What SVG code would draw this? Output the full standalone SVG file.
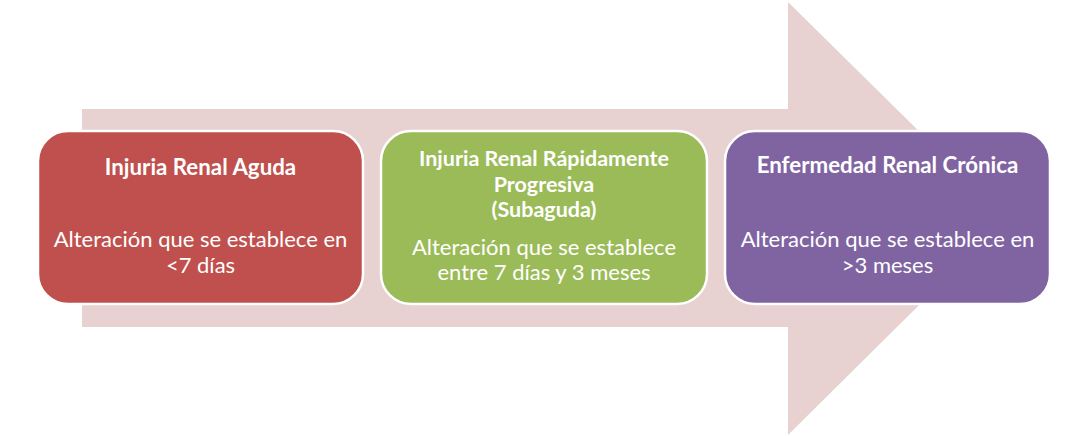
<svg xmlns="http://www.w3.org/2000/svg" width="1089" height="436" viewBox="0 0 1089 436">
<style>
.box{stroke:#ffffff;stroke-width:2.5}
.t{font-family:Lato,"Open Sans",sans-serif;fill:#ffffff;text-anchor:middle}
.h{font-weight:bold;font-size:22.3px}
.h2{font-weight:bold;font-size:21.5px}
.b{font-size:22px}
</style>
<rect width="1089" height="436" fill="#ffffff"/>
<g id="arrow">
<polygon points="82,109 788,109 788,2 1007,218 788,435 788,327 82,327" fill="#E8D1D1"/>
</g>
<g id="connectors"></g>
<g id="node1">
<rect class="box" x="38" y="131" width="325" height="173" rx="30" fill="#C0504D"/>
<text class="t h" x="200.5" y="175">Injuria Renal Aguda</text>
<text class="t b" x="200.5" y="247">Alteración que se establece en</text>
<text class="t b" x="200.5" y="273">&lt;7 días</text>
</g>
<g id="node2">
<rect class="box" x="381" y="131" width="326" height="173" rx="30" fill="#9BBB59"/>
<text class="t h2" x="544" y="166">Injuria Renal Rápidamente</text>
<text class="t h2" x="544" y="191.5">Progresiva</text>
<text class="t h2" x="544" y="217">(Subaguda)</text>
<text class="t b" x="544" y="255">Alteración que se establece</text>
<text class="t b" x="544" y="280">entre 7 días y 3 meses</text>
</g>
<g id="node3">
<rect class="box" x="725" y="131" width="325" height="173" rx="30" fill="#8064A2"/>
<text class="t h" x="887.5" y="173">Enfermedad Renal Crónica</text>
<text class="t b" x="887.5" y="247">Alteración que se establece en</text>
<text class="t b" x="887.5" y="273">&gt;3 meses</text>
</g>
</svg>
